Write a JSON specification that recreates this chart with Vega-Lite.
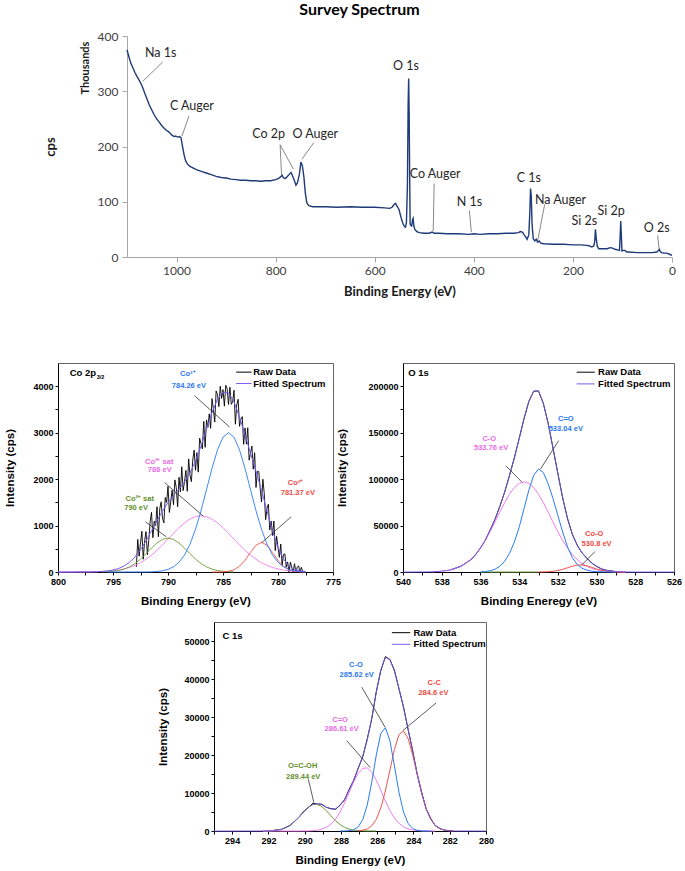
{
"$schema": "https://vega.github.io/schema/vega-lite/v6.json",
"padding": {"left": 4, "top": 2, "right": 2, "bottom": 2},
"background": "white",
"config": {
  "view": {"stroke": "#666", "strokeWidth": 1},
  "axis": {"grid": false, "domainColor": "#000", "tickColor": "#000", "tickSize": 3, "labelFont": "Liberation Sans", "labelFontWeight": "bold", "labelFontSize": 9, "labelColor": "#000", "labelPadding": 2, "titleFont": "Liberation Sans", "titleFontWeight": "bold", "titleFontSize": 11.5, "titleColor": "#000", "labelFlush": false, "labelOverlap": false},
  "text": {"font": "Liberation Sans", "fontWeight": "bold", "baseline": "middle"}
},
"datasets": {
  "survey": [
    {"e":1100,"k":375},{"e":1096,"k":362},{"e":1092,"k":350},{"e":1088,"k":342},{"e":1084,"k":334},{"e":1080,"k":327},{"e":1076,"k":321},{"e":1072,"k":314},{"e":1068,"k":306},{"e":1064,"k":296},{"e":1060,"k":287},{"e":1055,"k":275},{"e":1050,"k":266},{"e":1045,"k":257},{"e":1040,"k":250},{"e":1035,"k":244},{"e":1030,"k":238},{"e":1025,"k":233},{"e":1020,"k":229},{"e":1015,"k":226},{"e":1010,"k":221},{"e":1005,"k":218},{"e":1002,"k":219},{"e":998,"k":217},{"e":994,"k":218},{"e":991,"k":216},{"e":988,"k":200},{"e":985,"k":186},{"e":982,"k":175},{"e":978,"k":168},{"e":973,"k":164},{"e":966,"k":161},{"e":960,"k":158},{"e":950,"k":155},{"e":940,"k":152},{"e":930,"k":149},{"e":920,"k":146},{"e":910,"k":144},{"e":900,"k":143},{"e":890,"k":141},{"e":880,"k":140},{"e":870,"k":139},{"e":860,"k":139},{"e":850,"k":138},{"e":840,"k":138},{"e":830,"k":137},{"e":820,"k":138},{"e":810,"k":138},{"e":800,"k":140},{"e":795,"k":142},{"e":790,"k":145},{"e":787,"k":148},{"e":784,"k":143},{"e":780,"k":142},{"e":776,"k":146},{"e":772,"k":150},{"e":769,"k":153},{"e":766,"k":147},{"e":762,"k":138},{"e":759,"k":130},{"e":756,"k":134},{"e":752,"k":150},{"e":749,"k":172},{"e":746,"k":165},{"e":743,"k":145},{"e":740,"k":115},{"e":737,"k":98},{"e":733,"k":93},{"e":725,"k":91},{"e":700,"k":91},{"e":675,"k":90},{"e":650,"k":91},{"e":625,"k":90},{"e":600,"k":90},{"e":580,"k":89},{"e":570,"k":88},{"e":565,"k":90},{"e":561,"k":95},{"e":558,"k":97},{"e":555,"k":92},{"e":551,"k":86},{"e":547,"k":72},{"e":543,"k":60},{"e":540,"k":55},{"e":538,"k":54},{"e":536,"k":62},{"e":534,"k":130},{"e":532.5,"k":280},{"e":531.5,"k":323},{"e":530.5,"k":260},{"e":529.5,"k":150},{"e":528.5,"k":60},{"e":527,"k":57},{"e":525.5,"k":56},{"e":523.5,"k":68},{"e":522.5,"k":70},{"e":521,"k":56},{"e":519,"k":50},{"e":515,"k":46},{"e":510,"k":44},{"e":500,"k":43},{"e":490,"k":43},{"e":484,"k":45},{"e":480,"k":43},{"e":470,"k":43},{"e":454,"k":42},{"e":430,"k":42},{"e":410,"k":41},{"e":400,"k":42},{"e":387,"k":41},{"e":370,"k":42},{"e":353,"k":42},{"e":335,"k":43},{"e":319,"k":43},{"e":310,"k":44},{"e":306,"k":46},{"e":302,"k":45},{"e":299,"k":41},{"e":295,"k":36},{"e":292.5,"k":32},{"e":289,"k":40},{"e":287,"k":80},{"e":285.5,"k":124},{"e":284,"k":110},{"e":282.5,"k":60},{"e":280,"k":33},{"e":277,"k":29},{"e":274,"k":32},{"e":271,"k":27},{"e":268,"k":29},{"e":265,"k":25},{"e":259,"k":24},{"e":240,"k":23},{"e":219,"k":23},{"e":200,"k":22},{"e":185,"k":22},{"e":172,"k":21},{"e":166,"k":20},{"e":162,"k":18},{"e":158,"k":20},{"e":156,"k":28},{"e":154.5,"k":50},{"e":153,"k":35},{"e":151,"k":20},{"e":148,"k":15},{"e":140,"k":15},{"e":131,"k":15},{"e":125,"k":17},{"e":120,"k":16},{"e":115,"k":14},{"e":110,"k":13},{"e":106,"k":12},{"e":104.5,"k":40},{"e":103.5,"k":65},{"e":102.5,"k":45},{"e":101,"k":11},{"e":98,"k":12},{"e":95,"k":12},{"e":91,"k":9},{"e":88,"k":9},{"e":70,"k":8},{"e":51,"k":8},{"e":40,"k":8},{"e":31,"k":9},{"e":27,"k":12},{"e":25.5,"k":14},{"e":24,"k":10},{"e":21,"k":8},{"e":16,"k":7},{"e":11,"k":7},{"e":5,"k":5},{"e":0,"k":3}
  ],
  "surveyLab": [
    {"e":1032,"k":370,"t":"Na 1s"},{"e":969,"k":273,"t":"C Auger"},{"e":814,"k":223,"t":"Co 2p"},{"e":720,"k":223,"t":"O Auger"},{"e":537,"k":345,"t":"O 1s"},{"e":478,"k":150,"t":"Co Auger"},{"e":409,"k":100,"t":"N 1s"},{"e":289,"k":143,"t":"C 1s"},{"e":225,"k":103,"t":"Na Auger"},{"e":177,"k":65,"t":"Si 2s"},{"e":123,"k":83,"t":"Si 2p"},{"e":31,"k":53,"t":"O 2s"}
  ],
  "surveyLead": [
    {"e":1028,"k":353,"e2":1068,"k2":318},{"e":975,"k":255,"e2":989,"k2":219},{"e":791,"k":203,"e2":788,"k2":148},{"e":791,"k":203,"e2":764,"k2":159},{"e":723,"k":207,"e2":747,"k2":177},{"e":480,"k":133,"e2":482,"k2":47},{"e":409,"k":84,"e2":405,"k2":45},{"e":257,"k":95,"e2":271,"k2":30},{"e":29,"k":39,"e2":26,"k2":15}
  ],
  "co": [
    {"e":792.875,"i":113,"s":"raw"},{"e":792.75,"i":702,"s":"raw"},{"e":792.625,"i":340,"s":"raw"},{"e":792.5,"i":629,"s":"raw"},{"e":792.375,"i":877,"s":"raw"},{"e":792.25,"i":275,"s":"raw"},{"e":792.125,"i":672,"s":"raw"},{"e":792,"i":870,"s":"raw"},{"e":791.875,"i":374,"s":"raw"},{"e":791.75,"i":677,"s":"raw"},{"e":791.625,"i":1081,"s":"raw"},{"e":791.5,"i":1284,"s":"raw"},{"e":791.375,"i":739,"s":"raw"},{"e":791.25,"i":1095,"s":"raw"},{"e":791.125,"i":1000,"s":"raw"},{"e":791,"i":1405,"s":"raw"},{"e":790.875,"i":757,"s":"raw"},{"e":790.75,"i":1359,"s":"raw"},{"e":790.625,"i":1510,"s":"raw"},{"e":790.5,"i":1162,"s":"raw"},{"e":790.375,"i":1058,"s":"raw"},{"e":790.25,"i":1604,"s":"raw"},{"e":790.125,"i":1499,"s":"raw"},{"e":790,"i":1845,"s":"raw"},{"e":789.875,"i":1283,"s":"raw"},{"e":789.75,"i":1522,"s":"raw"},{"e":789.625,"i":1760,"s":"raw"},{"e":789.5,"i":1448,"s":"raw"},{"e":789.375,"i":1983,"s":"raw"},{"e":789.25,"i":1819,"s":"raw"},{"e":789.125,"i":1404,"s":"raw"},{"e":789,"i":2039,"s":"raw"},{"e":788.875,"i":1727,"s":"raw"},{"e":788.75,"i":2265,"s":"raw"},{"e":788.625,"i":1752,"s":"raw"},{"e":788.5,"i":1940,"s":"raw"},{"e":788.375,"i":2188,"s":"raw"},{"e":788.25,"i":1737,"s":"raw"},{"e":788.125,"i":2435,"s":"raw"},{"e":788,"i":2083,"s":"raw"},{"e":787.875,"i":1947,"s":"raw"},{"e":787.75,"i":2411,"s":"raw"},{"e":787.625,"i":2625,"s":"raw"},{"e":787.5,"i":2189,"s":"raw"},{"e":787.375,"i":2570,"s":"raw"},{"e":787.25,"i":2150,"s":"raw"},{"e":787.125,"i":2881,"s":"raw"},{"e":787,"i":2761,"s":"raw"},{"e":786.875,"i":2652,"s":"raw"},{"e":786.75,"i":3243,"s":"raw"},{"e":786.625,"i":2684,"s":"raw"},{"e":786.5,"i":3275,"s":"raw"},{"e":786.375,"i":3115,"s":"raw"},{"e":786.25,"i":3405,"s":"raw"},{"e":786.125,"i":3094,"s":"raw"},{"e":786,"i":3734,"s":"raw"},{"e":785.875,"i":3506,"s":"raw"},{"e":785.75,"i":3228,"s":"raw"},{"e":785.625,"i":3899,"s":"raw"},{"e":785.5,"i":3821,"s":"raw"},{"e":785.375,"i":3560,"s":"raw"},{"e":785.25,"i":4000,"s":"raw"},{"e":785.125,"i":3737,"s":"raw"},{"e":785,"i":3926,"s":"raw"},{"e":784.875,"i":3571,"s":"raw"},{"e":784.75,"i":4020,"s":"raw"},{"e":784.625,"i":3950,"s":"raw"},{"e":784.5,"i":3607,"s":"raw"},{"e":784.375,"i":3980,"s":"raw"},{"e":784.25,"i":3610,"s":"raw"},{"e":784.125,"i":3662,"s":"raw"},{"e":784,"i":3913,"s":"raw"},{"e":783.875,"i":3182,"s":"raw"},{"e":783.75,"i":3600,"s":"raw"},{"e":783.625,"i":3719,"s":"raw"},{"e":783.5,"i":3137,"s":"raw"},{"e":783.375,"i":3291,"s":"raw"},{"e":783.25,"i":3345,"s":"raw"},{"e":783.125,"i":2748,"s":"raw"},{"e":783,"i":3102,"s":"raw"},{"e":782.875,"i":2754,"s":"raw"},{"e":782.75,"i":3106,"s":"raw"},{"e":782.625,"i":2407,"s":"raw"},{"e":782.5,"i":2559,"s":"raw"},{"e":782.375,"i":2712,"s":"raw"},{"e":782.25,"i":2215,"s":"raw"},{"e":782.125,"i":2567,"s":"raw"},{"e":782,"i":1820,"s":"raw"},{"e":781.875,"i":2167,"s":"raw"},{"e":781.75,"i":2165,"s":"raw"},{"e":781.625,"i":1812,"s":"raw"},{"e":781.5,"i":1509,"s":"raw"},{"e":781.375,"i":1999,"s":"raw"},{"e":781.25,"i":1689,"s":"raw"},{"e":781.125,"i":1128,"s":"raw"},{"e":781,"i":1368,"s":"raw"},{"e":780.875,"i":1460,"s":"raw"},{"e":780.75,"i":903,"s":"raw"},{"e":780.625,"i":1095,"s":"raw"},{"e":780.5,"i":787,"s":"raw"},{"e":780.375,"i":1097,"s":"raw"},{"e":780.25,"i":458,"s":"raw"},{"e":780.125,"i":768,"s":"raw"},{"e":780,"i":528,"s":"raw"},{"e":779.875,"i":316,"s":"raw"},{"e":779.75,"i":603,"s":"raw"},{"e":779.625,"i":141,"s":"raw"},{"e":779.5,"i":378,"s":"raw"},{"e":779.375,"i":391,"s":"raw"},{"e":779.25,"i":105,"s":"raw"},{"e":779.125,"i":218,"s":"raw"},{"e":779,"i":0,"s":"raw"},{"e":778.875,"i":213,"s":"raw"},{"e":778.75,"i":95,"s":"raw"},{"e":778.625,"i":0,"s":"raw"},{"e":778.5,"i":178,"s":"raw"},{"e":778.375,"i":0,"s":"raw"},{"e":778.25,"i":102,"s":"raw"},{"e":778.125,"i":134,"s":"raw"},{"e":778,"i":0,"s":"raw"},{"e":777.875,"i":102,"s":"raw"},{"e":777.75,"i":0,"s":"raw"},
    {"e":795.5,"i":0,"s":"b"},{"e":792,"i":2,"s":"b"},{"e":791.5,"i":5,"s":"b"},{"e":791,"i":12,"s":"b"},{"e":790.5,"i":26,"s":"b"},{"e":790,"i":56,"s":"b"},{"e":789.5,"i":112,"s":"b"},{"e":789,"i":209,"s":"b"},{"e":788.5,"i":366,"s":"b"},{"e":788,"i":599,"s":"b"},{"e":787.5,"i":919,"s":"b"},{"e":787,"i":1319,"s":"b"},{"e":786.5,"i":1773,"s":"b"},{"e":786,"i":2232,"s":"b"},{"e":785.5,"i":2630,"s":"b"},{"e":785,"i":2903,"s":"b"},{"e":784.5,"i":3000,"s":"b"},{"e":784,"i":2903,"s":"b"},{"e":783.5,"i":2630,"s":"b"},{"e":783,"i":2232,"s":"b"},{"e":782.5,"i":1773,"s":"b"},{"e":782,"i":1319,"s":"b"},{"e":781.5,"i":919,"s":"b"},{"e":781,"i":599,"s":"b"},{"e":780.5,"i":366,"s":"b"},{"e":780,"i":209,"s":"b"},{"e":779.5,"i":112,"s":"b"},{"e":779,"i":56,"s":"b"},{"e":778.5,"i":26,"s":"b"},{"e":778,"i":12,"s":"b"},{"e":777.5,"i":5,"s":"b"},
    {"e":800,"i":0,"s":"m"},{"e":797,"i":3,"s":"m"},{"e":796.5,"i":6,"s":"m"},{"e":796,"i":10,"s":"m"},{"e":795.5,"i":16,"s":"m"},{"e":795,"i":27,"s":"m"},{"e":794.5,"i":43,"s":"m"},{"e":794,"i":66,"s":"m"},{"e":793.5,"i":98,"s":"m"},{"e":793,"i":142,"s":"m"},{"e":792.5,"i":200,"s":"m"},{"e":792,"i":274,"s":"m"},{"e":791.5,"i":363,"s":"m"},{"e":791,"i":467,"s":"m"},{"e":790.5,"i":584,"s":"m"},{"e":790,"i":709,"s":"m"},{"e":789.5,"i":834,"s":"m"},{"e":789,"i":954,"s":"m"},{"e":788.5,"i":1058,"s":"m"},{"e":788,"i":1140,"s":"m"},{"e":787.5,"i":1192,"s":"m"},{"e":787,"i":1210,"s":"m"},{"e":786.5,"i":1192,"s":"m"},{"e":786,"i":1140,"s":"m"},{"e":785.5,"i":1058,"s":"m"},{"e":785,"i":954,"s":"m"},{"e":784.5,"i":834,"s":"m"},{"e":784,"i":709,"s":"m"},{"e":783.5,"i":584,"s":"m"},{"e":783,"i":467,"s":"m"},{"e":782.5,"i":363,"s":"m"},{"e":782,"i":274,"s":"m"},{"e":781.5,"i":200,"s":"m"},{"e":781,"i":142,"s":"m"},{"e":780.5,"i":98,"s":"m"},{"e":780,"i":66,"s":"m"},{"e":779.5,"i":43,"s":"m"},{"e":779,"i":27,"s":"m"},{"e":778.5,"i":16,"s":"m"},{"e":778,"i":10,"s":"m"},{"e":777.5,"i":6,"s":"m"},
    {"e":796,"i":3,"s":"g"},{"e":795.5,"i":7,"s":"g"},{"e":795,"i":15,"s":"g"},{"e":794.5,"i":32,"s":"g"},{"e":794,"i":62,"s":"g"},{"e":793.5,"i":110,"s":"g"},{"e":793,"i":182,"s":"g"},{"e":792.5,"i":278,"s":"g"},{"e":792,"i":394,"s":"g"},{"e":791.5,"i":516,"s":"g"},{"e":791,"i":626,"s":"g"},{"e":790.5,"i":702,"s":"g"},{"e":790,"i":730,"s":"g"},{"e":789.5,"i":702,"s":"g"},{"e":789,"i":626,"s":"g"},{"e":788.5,"i":516,"s":"g"},{"e":788,"i":394,"s":"g"},{"e":787.5,"i":278,"s":"g"},{"e":787,"i":182,"s":"g"},{"e":786.5,"i":110,"s":"g"},{"e":786,"i":62,"s":"g"},{"e":785.5,"i":32,"s":"g"},{"e":785,"i":15,"s":"g"},{"e":784.5,"i":7,"s":"g"},{"e":784,"i":3,"s":"g"},
    {"e":786,"i":0,"s":"r"},{"e":785.5,"i":1,"s":"r"},{"e":785,"i":4,"s":"r"},{"e":784.5,"i":16,"s":"r"},{"e":784,"i":48,"s":"r"},{"e":783.5,"i":123,"s":"r"},{"e":783,"i":253,"s":"r"},{"e":782.5,"i":423,"s":"r"},{"e":782,"i":577,"s":"r"},{"e":781.5,"i":640,"s":"r"},{"e":781,"i":577,"s":"r"},{"e":780.5,"i":423,"s":"r"},{"e":780,"i":253,"s":"r"},{"e":779.5,"i":123,"s":"r"},{"e":779,"i":48,"s":"r"},{"e":778.5,"i":16,"s":"r"},{"e":778,"i":4,"s":"r"},{"e":777.5,"i":1,"s":"r"},
    {"e":800,"i":0,"s":"f"},{"e":797,"i":5,"s":"f"},{"e":796.5,"i":7,"s":"f"},{"e":796,"i":13,"s":"f"},{"e":795.5,"i":23,"s":"f"},{"e":795,"i":42,"s":"f"},{"e":794.5,"i":75,"s":"f"},{"e":794,"i":128,"s":"f"},{"e":793.5,"i":208,"s":"f"},{"e":793,"i":324,"s":"f"},{"e":792.5,"i":479,"s":"f"},{"e":792,"i":670,"s":"f"},{"e":791.5,"i":884,"s":"f"},{"e":791,"i":1105,"s":"f"},{"e":790.5,"i":1312,"s":"f"},{"e":790,"i":1495,"s":"f"},{"e":789.5,"i":1648,"s":"f"},{"e":789,"i":1789,"s":"f"},{"e":788.5,"i":1940,"s":"f"},{"e":788,"i":2133,"s":"f"},{"e":787.5,"i":2389,"s":"f"},{"e":787,"i":2711,"s":"f"},{"e":786.5,"i":3075,"s":"f"},{"e":786,"i":3434,"s":"f"},{"e":785.5,"i":3721,"s":"f"},{"e":785,"i":3876,"s":"f"},{"e":784.5,"i":3857,"s":"f"},{"e":784,"i":3663,"s":"f"},{"e":783.5,"i":3337,"s":"f"},{"e":783,"i":2952,"s":"f"},{"e":782.5,"i":2559,"s":"f"},{"e":782,"i":2170,"s":"f"},{"e":781.5,"i":1759,"s":"f"},{"e":781,"i":1318,"s":"f"},{"e":780.5,"i":887,"s":"f"},{"e":780,"i":528,"s":"f"},{"e":779.5,"i":278,"s":"f"},{"e":779,"i":131,"s":"f"},{"e":778.5,"i":58,"s":"f"},{"e":778,"i":26,"s":"f"},{"e":777.5,"i":12,"s":"f"}
  ],
  "coLab": [
    {"e":788.2,"i":4253,"t":"Co³⁺","s":"b"},{"e":788.1,"i":4015,"t":"784.26 eV","s":"b"},
    {"e":790.8,"i":2378,"t":"Co²⁺ sat","s":"m"},{"e":790.75,"i":2199,"t":"786 eV","s":"m"},
    {"e":792.57,"i":1563,"t":"Co²⁺ sat","s":"g"},{"e":792.9,"i":1369,"t":"790 eV","s":"g"},
    {"e":778.4,"i":1924,"t":"Co³⁺","s":"r"},{"e":778.2,"i":1693,"t":"781.37 eV","s":"r"}
  ],
  "coLead": [
    {"e":787.6,"i":3799,"e2":784.4,"i2":3120},{"e":790.3,"i":1924,"e2":786.8,"i2":1204},{"e":792.05,"i":1081,"e2":790.15,"i2":757},{"e":778.8,"i":1189,"e2":781.5,"i2":627}
  ],
  "coLeg": [
    {"e":783.8,"e2":782.4,"i":4303,"s":"raw","t":"Raw Data","te":782.25},{"e":783.8,"e2":782.4,"i":4058,"s":"f","t":"Fitted Spectrum","te":782.25}
  ],
  "o": [
    {"e":537.5,"i":2600,"s":"raw"},{"e":537,"i":6300,"s":"raw"},{"e":536.5,"i":13100,"s":"raw"},{"e":536.25,"i":18600,"s":"raw"},{"e":536,"i":25900,"s":"raw"},{"e":535.75,"i":34100,"s":"raw"},{"e":535.5,"i":45100,"s":"raw"},{"e":535.25,"i":56500,"s":"raw"},{"e":535,"i":70600,"s":"raw"},{"e":534.75,"i":85900,"s":"raw"},{"e":534.5,"i":103900,"s":"raw"},{"e":534.25,"i":122600,"s":"raw"},{"e":534,"i":143600,"s":"raw"},{"e":533.75,"i":164800,"s":"raw"},{"e":533.5,"i":183600,"s":"raw"},{"e":533.25,"i":194600,"s":"raw"},{"e":533,"i":194900,"s":"raw"},{"e":532.75,"i":181500,"s":"raw"},{"e":532.5,"i":159900,"s":"raw"},{"e":532.25,"i":133200,"s":"raw"},{"e":532,"i":106200,"s":"raw"},{"e":531.75,"i":79600,"s":"raw"},{"e":531.5,"i":57500,"s":"raw"},{"e":531.25,"i":40400,"s":"raw"},{"e":531,"i":28900,"s":"raw"},{"e":530.75,"i":20500,"s":"raw"},{"e":530.5,"i":14800,"s":"raw"},{"e":530.25,"i":9600,"s":"raw"},{"e":530,"i":6200,"s":"raw"},{"e":529.75,"i":3300,"s":"raw"},{"e":529.5,"i":1900,"s":"raw"},{"e":529,"i":400,"s":"raw"},{"e":528.75,"i":150,"s":"raw"},
    {"e":536,"i":0,"s":"g"},{"e":533,"i":0,"s":"g"},
    {"e":536,"i":0,"s":"b"},{"e":535.75,"i":400,"s":"b"},{"e":535.5,"i":1300,"s":"b"},{"e":535.25,"i":3000,"s":"b"},{"e":535,"i":6000,"s":"b"},{"e":534.75,"i":11500,"s":"b"},{"e":534.5,"i":20000,"s":"b"},{"e":534.25,"i":32000,"s":"b"},{"e":534,"i":48000,"s":"b"},{"e":533.75,"i":68000,"s":"b"},{"e":533.5,"i":88000,"s":"b"},{"e":533.25,"i":104000,"s":"b"},{"e":533,"i":111000,"s":"b"},{"e":532.75,"i":107000,"s":"b"},{"e":532.5,"i":95000,"s":"b"},{"e":532.25,"i":79000,"s":"b"},{"e":532,"i":61000,"s":"b"},{"e":531.75,"i":43000,"s":"b"},{"e":531.5,"i":27000,"s":"b"},{"e":531.25,"i":15500,"s":"b"},{"e":531,"i":8000,"s":"b"},{"e":530.75,"i":4000,"s":"b"},{"e":530.5,"i":2000,"s":"b"},{"e":530.25,"i":900,"s":"b"},{"e":530,"i":400,"s":"b"},{"e":529.5,"i":80,"s":"b"},{"e":529,"i":0,"s":"b"},
    {"e":538.5,"i":260,"s":"m"},{"e":538,"i":850,"s":"m"},{"e":537.5,"i":2400,"s":"m"},{"e":537,"i":6100,"s":"m"},{"e":536.5,"i":13300,"s":"m"},{"e":536.25,"i":18800,"s":"m"},{"e":536,"i":25700,"s":"m"},{"e":535.75,"i":33900,"s":"m"},{"e":535.5,"i":43400,"s":"m"},{"e":535.25,"i":53700,"s":"m"},{"e":535,"i":64400,"s":"m"},{"e":534.75,"i":74600,"s":"m"},{"e":534.5,"i":83700,"s":"m"},{"e":534.25,"i":90800,"s":"m"},{"e":534,"i":95400,"s":"m"},{"e":533.75,"i":97000,"s":"m"},{"e":533.5,"i":95400,"s":"m"},{"e":533.25,"i":90800,"s":"m"},{"e":533,"i":83700,"s":"m"},{"e":532.75,"i":74600,"s":"m"},{"e":532.5,"i":64400,"s":"m"},{"e":532.25,"i":53700,"s":"m"},{"e":532,"i":43400,"s":"m"},{"e":531.75,"i":33900,"s":"m"},{"e":531.5,"i":25700,"s":"m"},{"e":531.25,"i":18800,"s":"m"},{"e":531,"i":13300,"s":"m"},{"e":530.75,"i":9150,"s":"m"},{"e":530.5,"i":6100,"s":"m"},{"e":530.25,"i":3900,"s":"m"},{"e":530,"i":2400,"s":"m"},{"e":529.5,"i":850,"s":"m"},{"e":529,"i":260,"s":"m"},{"e":528.5,"i":60,"s":"m"},
    {"e":533,"i":32,"s":"r"},{"e":532.5,"i":304,"s":"r"},{"e":532.25,"i":750,"s":"r"},{"e":532,"i":1590,"s":"r"},{"e":531.75,"i":2910,"s":"r"},{"e":531.5,"i":4610,"s":"r"},{"e":531.25,"i":6290,"s":"r"},{"e":531,"i":7400,"s":"r"},{"e":530.75,"i":7510,"s":"r"},{"e":530.5,"i":6570,"s":"r"},{"e":530.25,"i":4960,"s":"r"},{"e":530,"i":3230,"s":"r"},{"e":529.75,"i":1815,"s":"r"},{"e":529.5,"i":880,"s":"r"},{"e":529,"i":130,"s":"r"},{"e":528.5,"i":0,"s":"r"},
    {"e":540,"i":0,"s":"f"},{"e":538.5,"i":260,"s":"f"},{"e":538,"i":850,"s":"f"},{"e":537.5,"i":2400,"s":"f"},{"e":537,"i":6100,"s":"f"},{"e":536.5,"i":13300,"s":"f"},{"e":536.25,"i":18800,"s":"f"},{"e":536,"i":25700,"s":"f"},{"e":535.75,"i":34300,"s":"f"},{"e":535.5,"i":44700,"s":"f"},{"e":535.25,"i":56700,"s":"f"},{"e":535,"i":70400,"s":"f"},{"e":534.75,"i":86100,"s":"f"},{"e":534.5,"i":103700,"s":"f"},{"e":534.25,"i":122800,"s":"f"},{"e":534,"i":143400,"s":"f"},{"e":533.75,"i":165000,"s":"f"},{"e":533.5,"i":183400,"s":"f"},{"e":533.25,"i":194800,"s":"f"},{"e":533,"i":194700,"s":"f"},{"e":532.75,"i":181700,"s":"f"},{"e":532.5,"i":159700,"s":"f"},{"e":532.25,"i":133450,"s":"f"},{"e":532,"i":105990,"s":"f"},{"e":531.75,"i":79810,"s":"f"},{"e":531.5,"i":57310,"s":"f"},{"e":531.25,"i":40590,"s":"f"},{"e":531,"i":28700,"s":"f"},{"e":530.75,"i":20660,"s":"f"},{"e":530.5,"i":14670,"s":"f"},{"e":530.25,"i":9760,"s":"f"},{"e":530,"i":6030,"s":"f"},{"e":529.75,"i":3415,"s":"f"},{"e":529.5,"i":1810,"s":"f"},{"e":529,"i":390,"s":"f"},{"e":528.5,"i":61,"s":"f"},{"e":528,"i":0,"s":"f"},{"e":526,"i":0,"s":"f"}
  ],
  "oLab": [
    {"e":531.59,"i":164700,"t":"C=O","s":"b"},{"e":531.59,"i":153900,"t":"533.04 eV","s":"b"},
    {"e":535.54,"i":143100,"t":"C-O","s":"m"},{"e":535.45,"i":133100,"t":"533.76 eV","s":"m"},
    {"e":530.12,"i":40600,"t":"Co-O","s":"r"},{"e":530.0,"i":29800,"t":"530.8 eV","s":"r"}
  ],
  "oLead": [
    {"e":531.96,"i":141400,"e2":532.9,"i2":110700},{"e":534.69,"i":114400,"e2":533.84,"i2":96400},{"e":530.09,"i":21900,"e2":530.77,"i2":7550}
  ],
  "oLeg": [
    {"e":531.03,"e2":530.09,"i":215100,"s":"raw","t":"Raw Data","te":529.92},{"e":531.03,"e2":530.09,"i":202500,"s":"f","t":"Fitted Spectrum","te":529.92}
  ],
  "c": [
    {"e":292.05,"i":150,"s":"raw"},{"e":291.8,"i":60,"s":"raw"},{"e":291.55,"i":300,"s":"raw"},{"e":291.3,"i":350,"s":"raw"},{"e":291.05,"i":950,"s":"raw"},{"e":290.8,"i":1450,"s":"raw"},{"e":290.55,"i":2600,"s":"raw"},{"e":290.3,"i":3650,"s":"raw"},{"e":290.05,"i":5200,"s":"raw"},{"e":289.8,"i":6150,"s":"raw"},{"e":289.55,"i":7300,"s":"raw"},{"e":289.3,"i":7100,"s":"raw"},{"e":289.05,"i":7050,"s":"raw"},{"e":288.8,"i":6200,"s":"raw"},{"e":288.55,"i":5900,"s":"raw"},{"e":288.3,"i":5700,"s":"raw"},{"e":288.05,"i":6800,"s":"raw"},{"e":287.8,"i":8200,"s":"raw"},{"e":287.55,"i":10900,"s":"raw"},{"e":287.3,"i":13300,"s":"raw"},{"e":287.05,"i":16500,"s":"raw"},{"e":286.8,"i":19500,"s":"raw"},{"e":286.55,"i":24200,"s":"raw"},{"e":286.3,"i":29500,"s":"raw"},{"e":286.05,"i":36700,"s":"raw"},{"e":285.8,"i":42200,"s":"raw"},{"e":285.55,"i":45900,"s":"raw"},{"e":285.3,"i":45100,"s":"raw"},{"e":285.05,"i":42300,"s":"raw"},{"e":284.8,"i":37400,"s":"raw"},{"e":284.55,"i":32700,"s":"raw"},{"e":284.3,"i":26800,"s":"raw"},{"e":284.05,"i":21300,"s":"raw"},{"e":283.8,"i":15100,"s":"raw"},{"e":283.55,"i":10200,"s":"raw"},{"e":283.3,"i":5800,"s":"raw"},{"e":283.05,"i":3300,"s":"raw"},{"e":282.8,"i":1400,"s":"raw"},{"e":282.55,"i":700,"s":"raw"},{"e":282.3,"i":200,"s":"raw"},{"e":282.05,"i":120,"s":"raw"},{"e":281.8,"i":0,"s":"raw"},
    {"e":292.3,"i":10,"s":"g"},{"e":292.05,"i":29,"s":"g"},{"e":291.8,"i":78,"s":"g"},{"e":291.55,"i":191,"s":"g"},{"e":291.3,"i":420,"s":"g"},{"e":291.05,"i":840,"s":"g"},{"e":290.8,"i":1525,"s":"g"},{"e":290.55,"i":2510,"s":"g"},{"e":290.3,"i":3744,"s":"g"},{"e":290.05,"i":5070,"s":"g"},{"e":289.8,"i":6220,"s":"g"},{"e":289.55,"i":6930,"s":"g"},{"e":289.3,"i":6995,"s":"g"},{"e":289.05,"i":6405,"s":"g"},{"e":288.8,"i":5322,"s":"g"},{"e":288.55,"i":4010,"s":"g"},{"e":288.3,"i":2740,"s":"g"},{"e":288.05,"i":1698,"s":"g"},{"e":287.8,"i":954,"s":"g"},{"e":287.55,"i":487,"s":"g"},{"e":287.3,"i":225,"s":"g"},{"e":287.05,"i":94,"s":"g"},{"e":286.8,"i":36,"s":"g"},{"e":286.55,"i":13,"s":"g"},{"e":286.3,"i":5,"s":"g"},{"e":286.05,"i":0,"s":"g"},
    {"e":292.3,"i":0,"s":"m"},{"e":290.3,"i":4,"s":"m"},{"e":290.05,"i":13,"s":"m"},{"e":289.8,"i":36,"s":"m"},{"e":289.55,"i":93,"s":"m"},{"e":289.3,"i":219,"s":"m"},{"e":289.05,"i":477,"s":"m"},{"e":288.8,"i":963,"s":"m"},{"e":288.55,"i":1799,"s":"m"},{"e":288.3,"i":3110,"s":"m"},{"e":288.05,"i":4980,"s":"m"},{"e":287.8,"i":7382,"s":"m"},{"e":287.55,"i":10130,"s":"m"},{"e":287.3,"i":12866,"s":"m"},{"e":287.05,"i":15130,"s":"m"},{"e":286.8,"i":16470,"s":"m"},{"e":286.55,"i":16600,"s":"m"},{"e":286.3,"i":15480,"s":"m"},{"e":286.05,"i":13370,"s":"m"},{"e":285.8,"i":10690,"s":"m"},{"e":285.55,"i":7910,"s":"m"},{"e":285.3,"i":5420,"s":"m"},{"e":285.05,"i":3440,"s":"m"},{"e":284.8,"i":2020,"s":"m"},{"e":284.55,"i":1097,"s":"m"},{"e":284.3,"i":553,"s":"m"},{"e":284.05,"i":257,"s":"m"},{"e":283.8,"i":111,"s":"m"},{"e":283.55,"i":44,"s":"m"},{"e":283.3,"i":16,"s":"m"},{"e":283.05,"i":6,"s":"m"},{"e":282.8,"i":2,"s":"m"},
    {"e":288.05,"i":0,"s":"b"},{"e":287.8,"i":16,"s":"b"},{"e":287.55,"i":79,"s":"b"},{"e":287.3,"i":320,"s":"b"},{"e":287.05,"i":1075,"s":"b"},{"e":286.8,"i":2980,"s":"b"},{"e":286.55,"i":6810,"s":"b"},{"e":286.3,"i":12845,"s":"b"},{"e":286.05,"i":19990,"s":"b"},{"e":285.8,"i":25670,"s":"b"},{"e":285.55,"i":27190,"s":"b"},{"e":285.3,"i":23770,"s":"b"},{"e":285.05,"i":17140,"s":"b"},{"e":284.8,"i":10200,"s":"b"},{"e":284.55,"i":5007,"s":"b"},{"e":284.3,"i":2028,"s":"b"},{"e":284.05,"i":678,"s":"b"},{"e":283.8,"i":187,"s":"b"},{"e":283.55,"i":43,"s":"b"},{"e":283.3,"i":10,"s":"b"},{"e":283.05,"i":0,"s":"b"},
    {"e":287.05,"i":58,"s":"r"},{"e":286.8,"i":189,"s":"r"},{"e":286.55,"i":545,"s":"r"},{"e":286.3,"i":1383,"s":"r"},{"e":286.05,"i":3090,"s":"r"},{"e":285.8,"i":6075,"s":"r"},{"e":285.55,"i":10510,"s":"r"},{"e":285.3,"i":16010,"s":"r"},{"e":285.05,"i":21470,"s":"r"},{"e":284.8,"i":25345,"s":"r"},{"e":284.55,"i":26330,"s":"r"},{"e":284.3,"i":24370,"s":"r"},{"e":284.05,"i":20175,"s":"r"},{"e":283.8,"i":14945,"s":"r"},{"e":283.55,"i":9910,"s":"r"},{"e":283.3,"i":5877,"s":"r"},{"e":283.05,"i":3118,"s":"r"},{"e":282.8,"i":1481,"s":"r"},{"e":282.55,"i":630,"s":"r"},{"e":282.3,"i":240,"s":"r"},{"e":282.05,"i":82,"s":"r"},{"e":281.8,"i":25,"s":"r"},
    {"e":295,"i":0,"s":"f"},{"e":292.3,"i":10,"s":"f"},{"e":292.05,"i":29,"s":"f"},{"e":291.8,"i":78,"s":"f"},{"e":291.55,"i":191,"s":"f"},{"e":291.3,"i":420,"s":"f"},{"e":291.05,"i":840,"s":"f"},{"e":290.8,"i":1525,"s":"f"},{"e":290.55,"i":2510,"s":"f"},{"e":290.3,"i":3749,"s":"f"},{"e":290.05,"i":5083,"s":"f"},{"e":289.8,"i":6256,"s":"f"},{"e":289.55,"i":7023,"s":"f"},{"e":289.3,"i":7214,"s":"f"},{"e":289.05,"i":6882,"s":"f"},{"e":288.8,"i":6285,"s":"f"},{"e":288.55,"i":5809,"s":"f"},{"e":288.3,"i":5850,"s":"f"},{"e":288.05,"i":6678,"s":"f"},{"e":287.8,"i":8352,"s":"f"},{"e":287.55,"i":10696,"s":"f"},{"e":287.3,"i":13411,"s":"f"},{"e":287.05,"i":16357,"s":"f"},{"e":286.8,"i":19675,"s":"f"},{"e":286.55,"i":23968,"s":"f"},{"e":286.3,"i":29713,"s":"f"},{"e":286.05,"i":36450,"s":"f"},{"e":285.8,"i":42435,"s":"f"},{"e":285.55,"i":45610,"s":"f"},{"e":285.3,"i":45200,"s":"f"},{"e":285.05,"i":42050,"s":"f"},{"e":284.8,"i":37565,"s":"f"},{"e":284.55,"i":32434,"s":"f"},{"e":284.3,"i":26951,"s":"f"},{"e":284.05,"i":21110,"s":"f"},{"e":283.8,"i":15243,"s":"f"},{"e":283.55,"i":9997,"s":"f"},{"e":283.3,"i":5903,"s":"f"},{"e":283.05,"i":3124,"s":"f"},{"e":282.8,"i":1483,"s":"f"},{"e":282.55,"i":630,"s":"f"},{"e":282.3,"i":240,"s":"f"},{"e":282.05,"i":82,"s":"f"},{"e":281.8,"i":25,"s":"f"},{"e":280,"i":0,"s":"f"}
  ],
  "cLab": [
    {"e":287.17,"i":43580,"t":"C-O","s":"b"},{"e":287.13,"i":40940,"t":"285.62 eV","s":"b"},
    {"e":282.86,"i":38990,"t":"C-C","s":"r"},{"e":282.9,"i":36270,"t":"284.6 eV","s":"r"},
    {"e":288.05,"i":29320,"t":"C=O","s":"m"},{"e":287.96,"i":26840,"t":"286.61 eV","s":"m"},
    {"e":290.11,"i":16980,"t":"O=C-OH","s":"g"},{"e":290.08,"i":14340,"t":"289.44 eV","s":"g"}
  ],
  "cLead": [
    {"e":286.85,"i":37850,"e2":285.56,"i2":27280},{"e":282.75,"i":33700,"e2":284.59,"i2":26410},{"e":287.68,"i":23770,"e2":286.39,"i2":16720},{"e":289.8,"i":13630,"e2":289.49,"i2":7470}
  ],
  "cLeg": [
    {"e":285.19,"e2":284.18,"i":52190,"s":"raw","t":"Raw Data","te":284.0},{"e":285.19,"e2":284.18,"i":49130,"s":"f","t":"Fitted Spectrum","te":284.0}
  ]
},
"vconcat": [
  {
    "hconcat": [
      {"width": 69, "height": 221, "view": {"stroke": null}, "data": {"values": []}, "mark": "point", "encoding": {}},
      {
        "width": 545, "height": 221,
        "view": {"stroke": null},
        "title": {"text": "Survey Spectrum", "font": "Lato", "fontSize": 16, "fontWeight": "bold", "color": "#000", "dx": -40, "offset": 12},
        "encoding": {
          "x": {"field": "e", "type": "quantitative", "scale": {"domain": [0, 1100], "reverse": true, "nice": false, "zero": false},
                "axis": {"values": [0,200,400,600,800,1000], "format": "d", "title": "Binding Energy (eV)", "domainColor": "#a6a6a6", "tickColor": "#a6a6a6", "tickSize": 5, "labelFont": "Lato", "labelFontWeight": "normal", "labelFontSize": 12, "labelColor": "#404040", "labelPadding": 3, "titleFont": "Lato", "titleFontSize": 13, "titleFontWeight": "bold", "titleColor": "#1a1a1a", "titlePadding": 9}},
          "y": {"field": "k", "type": "quantitative", "scale": {"domain": [0, 400], "nice": false},
                "axis": {"values": [0,100,200,300,400], "format": "d", "title": "cps", "domainColor": "#a6a6a6", "tickColor": "#a6a6a6", "tickSize": 5, "labelFont": "Lato", "labelFontWeight": "normal", "labelFontSize": 12, "labelColor": "#404040", "labelPadding": 4, "titleFont": "Lato", "titleFontSize": 13, "titleFontWeight": "bold", "titleColor": "#1a1a1a", "titlePadding": 40}}
        },
        "layer": [
          {"data": {"name": "survey"}, "mark": {"type": "line", "color": "#1f3a78", "strokeWidth": 1.4}},
          {"data": {"name": "surveyLead"}, "mark": {"type": "rule", "color": "#6b6b6b", "strokeWidth": 0.8}, "encoding": {"x2": {"field": "e2"}, "y2": {"field": "k2"}}},
          {"data": {"name": "surveyLab"}, "mark": {"type": "text", "font": "Lato", "fontWeight": "normal", "fontSize": 12.5, "color": "#262626"}, "encoding": {"text": {"field": "t"}}},
          {"data": {"values": [{"e": 1183, "k": 342, "t": "Thousands"}]}, "mark": {"type": "text", "font": "Lato", "fontWeight": "bold", "fontSize": 11, "angle": 270, "color": "#1a1a1a"}, "encoding": {"text": {"field": "t"}}}
        ]
      }
    ],
    "spacing": 0, "bounds": "flush"
  },
  {
    "vconcat": [
      {
        "hconcat": [
          {
            "width": 275, "height": 209,
            "encoding": {
              "x": {"field": "e", "type": "quantitative", "scale": {"domain": [775, 800], "reverse": true, "nice": false, "zero": false},
                    "axis": {"values": [775,777.5,780,782.5,785,787.5,790,792.5,795,797.5,800], "labelExpr": "datum.value % 5 === 0 ? datum.label : ''", "title": "Binding Energy (eV)", "titlePadding": 9}},
              "y": {"field": "i", "type": "quantitative", "scale": {"domain": [0, 4500], "nice": false},
                    "axis": {"values": [0,500,1000,1500,2000,2500,3000,3500,4000], "labelExpr": "datum.value % 1000 === 0 ? datum.label : ''", "format": "d", "title": "Intensity (cps)", "titlePadding": 17}}
            },
            "layer": [
              {"data": {"name": "co"}, "transform": [{"filter": "datum.s === 'raw'"}], "mark": {"type": "line", "color": "#000", "strokeWidth": 0.9}},
              {"data": {"name": "co"}, "transform": [{"filter": "datum.s === 'm'"}], "mark": {"type": "line", "color": "#f07cf0", "strokeWidth": 0.9}},
              {"data": {"name": "co"}, "transform": [{"filter": "datum.s === 'g'"}], "mark": {"type": "line", "color": "#6e9b3a", "strokeWidth": 0.9}},
              {"data": {"name": "co"}, "transform": [{"filter": "datum.s === 'r'"}], "mark": {"type": "line", "color": "#f2554c", "strokeWidth": 0.9}},
              {"data": {"name": "co"}, "transform": [{"filter": "datum.s === 'b'"}], "mark": {"type": "line", "color": "#2a7bf5", "strokeWidth": 0.9}},
              {"data": {"name": "co"}, "transform": [{"filter": "datum.s === 'f'"}], "mark": {"type": "line", "color": "#7b5cf2", "strokeWidth": 1}},
              {"data": {"name": "coLead"}, "mark": {"type": "rule", "color": "#333", "strokeWidth": 0.8}, "encoding": {"x2": {"field": "e2"}, "y2": {"field": "i2"}}},
              {"data": {"name": "coLab"}, "transform": [{"filter": "datum.s === 'b'"}], "mark": {"type": "text", "fontSize": 7.5, "color": "#2a78f0"}, "encoding": {"text": {"field": "t"}}},
              {"data": {"name": "coLab"}, "transform": [{"filter": "datum.s === 'm'"}], "mark": {"type": "text", "fontSize": 7.5, "color": "#e86ae8"}, "encoding": {"text": {"field": "t"}}},
              {"data": {"name": "coLab"}, "transform": [{"filter": "datum.s === 'g'"}], "mark": {"type": "text", "fontSize": 7.5, "color": "#5f8f2a"}, "encoding": {"text": {"field": "t"}}},
              {"data": {"name": "coLab"}, "transform": [{"filter": "datum.s === 'r'"}], "mark": {"type": "text", "fontSize": 7.5, "color": "#ee4b43"}, "encoding": {"text": {"field": "t"}}},
              {"data": {"values": [{"e": 798.94, "i": 4288, "t": "Co 2p"}]}, "mark": {"type": "text", "fontSize": 9.5, "align": "left", "color": "#000"}, "encoding": {"text": {"field": "t"}}},
              {"data": {"values": [{"e": 796.48, "i": 4190, "t": "3/2"}]}, "mark": {"type": "text", "fontSize": 5.5, "align": "left", "color": "#000"}, "encoding": {"text": {"field": "t"}}},
              {"data": {"name": "coLeg"}, "transform": [{"filter": "datum.s === 'raw'"}], "mark": {"type": "rule", "color": "#000", "strokeWidth": 1}, "encoding": {"x2": {"field": "e2"}}},
              {"data": {"name": "coLeg"}, "transform": [{"filter": "datum.s === 'f'"}], "mark": {"type": "rule", "color": "#7b5cf2", "strokeWidth": 1}, "encoding": {"x2": {"field": "e2"}}},
              {"data": {"name": "coLeg"}, "mark": {"type": "text", "fontSize": 9.5, "align": "left", "color": "#000"}, "encoding": {"x": {"field": "te", "type": "quantitative"}, "text": {"field": "t"}}}
            ]
          },
          {
            "width": 271, "height": 209,
            "encoding": {
              "x": {"field": "e", "type": "quantitative", "scale": {"domain": [526, 540], "reverse": true, "nice": false, "zero": false},
                    "axis": {"values": [526,527,528,529,530,531,532,533,534,535,536,537,538,539,540], "labelExpr": "datum.value % 2 === 0 ? datum.label : ''", "title": "Binding Eneregy (eV)", "titlePadding": 9}},
              "y": {"field": "i", "type": "quantitative", "scale": {"domain": [0, 225000], "nice": false},
                    "axis": {"values": [0,25000,50000,75000,100000,125000,150000,175000,200000], "labelExpr": "datum.value % 50000 === 0 ? datum.label : ''", "format": "d", "title": "Intensity (cps)", "titlePadding": 20}}
            },
            "layer": [
              {"data": {"name": "o"}, "transform": [{"filter": "datum.s === 'raw'"}], "mark": {"type": "line", "color": "#000", "strokeWidth": 1}},
              {"data": {"name": "o"}, "transform": [{"filter": "datum.s === 'g'"}], "mark": {"type": "line", "color": "#6e9b3a", "strokeWidth": 1}},
              {"data": {"name": "o"}, "transform": [{"filter": "datum.s === 'm'"}], "mark": {"type": "line", "color": "#f07cf0", "strokeWidth": 1}},
              {"data": {"name": "o"}, "transform": [{"filter": "datum.s === 'r'"}], "mark": {"type": "line", "color": "#f2554c", "strokeWidth": 1}},
              {"data": {"name": "o"}, "transform": [{"filter": "datum.s === 'b'"}], "mark": {"type": "line", "color": "#2a7bf5", "strokeWidth": 1}},
              {"data": {"name": "o"}, "transform": [{"filter": "datum.s === 'f'"}], "mark": {"type": "line", "color": "#7b5cf2", "strokeWidth": 1, "opacity": 0.85}},
              {"data": {"name": "oLead"}, "mark": {"type": "rule", "color": "#333", "strokeWidth": 0.8}, "encoding": {"x2": {"field": "e2"}, "y2": {"field": "i2"}}},
              {"data": {"name": "oLab"}, "transform": [{"filter": "datum.s === 'b'"}], "mark": {"type": "text", "fontSize": 7.5, "color": "#2a78f0"}, "encoding": {"text": {"field": "t"}}},
              {"data": {"name": "oLab"}, "transform": [{"filter": "datum.s === 'm'"}], "mark": {"type": "text", "fontSize": 7.5, "color": "#e86ae8"}, "encoding": {"text": {"field": "t"}}},
              {"data": {"name": "oLab"}, "transform": [{"filter": "datum.s === 'r'"}], "mark": {"type": "text", "fontSize": 7.5, "color": "#ee4b43"}, "encoding": {"text": {"field": "t"}}},
              {"data": {"values": [{"e": 539.73, "i": 214350, "t": "O 1s"}]}, "mark": {"type": "text", "fontSize": 9.5, "align": "left", "color": "#000"}, "encoding": {"text": {"field": "t"}}},
              {"data": {"name": "oLeg"}, "transform": [{"filter": "datum.s === 'raw'"}], "mark": {"type": "rule", "color": "#000", "strokeWidth": 1}, "encoding": {"x2": {"field": "e2"}}},
              {"data": {"name": "oLeg"}, "transform": [{"filter": "datum.s === 'f'"}], "mark": {"type": "rule", "color": "#7b5cf2", "strokeWidth": 1}, "encoding": {"x2": {"field": "e2"}}},
              {"data": {"name": "oLeg"}, "mark": {"type": "text", "fontSize": 9.5, "align": "left", "color": "#000"}, "encoding": {"x": {"field": "te", "type": "quantitative"}, "text": {"field": "t"}}}
            ]
          }
        ],
        "spacing": 70, "bounds": "flush"
      },
      {
        "hconcat": [
          {"width": 156, "height": 209, "view": {"stroke": null}, "data": {"values": []}, "mark": "point", "encoding": {}},
          {
            "width": 272, "height": 209,
            "encoding": {
              "x": {"field": "e", "type": "quantitative", "scale": {"domain": [280, 295], "reverse": true, "nice": false, "zero": false},
                    "axis": {"values": [280,281,282,283,284,285,286,287,288,289,290,291,292,293,294,295], "labelExpr": "datum.value % 2 === 0 ? datum.label : ''", "title": "Binding Energy (eV)", "titlePadding": 9}},
              "y": {"field": "i", "type": "quantitative", "scale": {"domain": [0, 55000], "nice": false},
                    "axis": {"values": [0,5000,10000,15000,20000,25000,30000,35000,40000,45000,50000], "labelExpr": "datum.value % 10000 === 0 ? datum.label : ''", "format": "d", "title": "Intensity (cps)", "titlePadding": 15}}
            },
            "layer": [
              {"data": {"name": "c"}, "transform": [{"filter": "datum.s === 'raw'"}], "mark": {"type": "line", "color": "#000", "strokeWidth": 1}},
              {"data": {"name": "c"}, "transform": [{"filter": "datum.s === 'g'"}], "mark": {"type": "line", "color": "#6e9b3a", "strokeWidth": 1}},
              {"data": {"name": "c"}, "transform": [{"filter": "datum.s === 'm'"}], "mark": {"type": "line", "color": "#f07cf0", "strokeWidth": 1}},
              {"data": {"name": "c"}, "transform": [{"filter": "datum.s === 'r'"}], "mark": {"type": "line", "color": "#f2554c", "strokeWidth": 1}},
              {"data": {"name": "c"}, "transform": [{"filter": "datum.s === 'b'"}], "mark": {"type": "line", "color": "#2a7bf5", "strokeWidth": 1}},
              {"data": {"name": "c"}, "transform": [{"filter": "datum.s === 'f'"}], "mark": {"type": "line", "color": "#7b5cf2", "strokeWidth": 1, "opacity": 0.85}},
              {"data": {"name": "cLead"}, "mark": {"type": "rule", "color": "#333", "strokeWidth": 0.8}, "encoding": {"x2": {"field": "e2"}, "y2": {"field": "i2"}}},
              {"data": {"name": "cLab"}, "transform": [{"filter": "datum.s === 'b'"}], "mark": {"type": "text", "fontSize": 7.5, "color": "#2a78f0"}, "encoding": {"text": {"field": "t"}}},
              {"data": {"name": "cLab"}, "transform": [{"filter": "datum.s === 'm'"}], "mark": {"type": "text", "fontSize": 7.5, "color": "#e86ae8"}, "encoding": {"text": {"field": "t"}}},
              {"data": {"name": "cLab"}, "transform": [{"filter": "datum.s === 'g'"}], "mark": {"type": "text", "fontSize": 7.5, "color": "#5f8f2a"}, "encoding": {"text": {"field": "t"}}},
              {"data": {"name": "cLab"}, "transform": [{"filter": "datum.s === 'r'"}], "mark": {"type": "text", "fontSize": 7.5, "color": "#ee4b43"}, "encoding": {"text": {"field": "t"}}},
              {"data": {"values": [{"e": 294.53, "i": 51240, "t": "C 1s"}]}, "mark": {"type": "text", "fontSize": 9.5, "align": "left", "color": "#000"}, "encoding": {"text": {"field": "t"}}},
              {"data": {"name": "cLeg"}, "transform": [{"filter": "datum.s === 'raw'"}], "mark": {"type": "rule", "color": "#000", "strokeWidth": 1}, "encoding": {"x2": {"field": "e2"}}},
              {"data": {"name": "cLeg"}, "transform": [{"filter": "datum.s === 'f'"}], "mark": {"type": "rule", "color": "#7b5cf2", "strokeWidth": 1}, "encoding": {"x2": {"field": "e2"}}},
              {"data": {"name": "cLeg"}, "mark": {"type": "text", "fontSize": 9.5, "align": "left", "color": "#000"}, "encoding": {"x": {"field": "te", "type": "quantitative"}, "text": {"field": "t"}}}
            ]
          }
        ],
        "spacing": 0, "bounds": "flush"
      }
    ],
    "spacing": 14
  }
],
"spacing": 64
}
